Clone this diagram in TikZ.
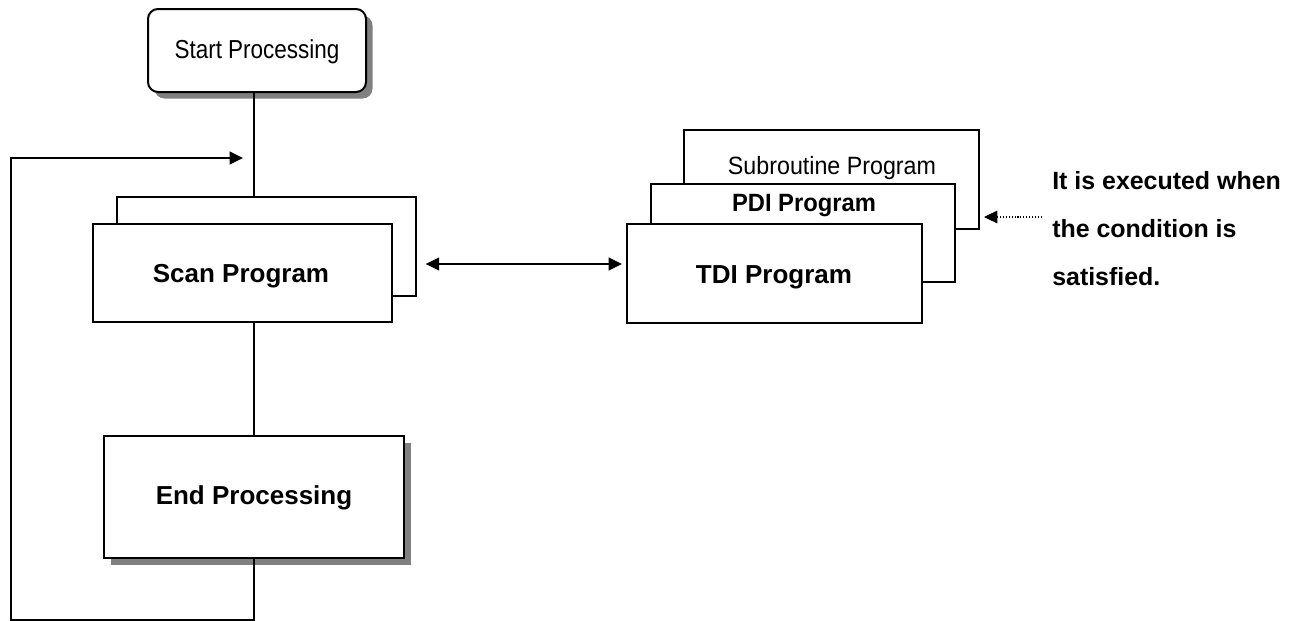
\documentclass[tikz,border=0pt]{standalone}
\usepackage{fontspec}
\setmainfont{Liberation Sans}
\newfontfamily\narrowfont[FakeStretch=0.865]{Liberation Sans}
\newfontfamily\subfont[FakeStretch=0.93]{Liberation Sans}
\newfontfamily\pdifont[FakeStretch=0.95]{Liberation Sans}
\usetikzlibrary{arrows.meta,shadows}
\begin{document}
\begin{tikzpicture}[x=0.75pt,y=-0.75pt,
  box/.style={draw=black, line width=1.5pt, fill=white, rectangle, inner sep=0pt},
  shadowbox/.style={box, drop shadow={shadow xshift=4.9pt, shadow yshift=-4.9pt, fill=black!50, opacity=1}},
  lbl/.style={font=\bfseries\fontsize{19.5pt}{22pt}\selectfont, inner sep=0pt},
  conn/.style={line width=1.3pt},
  tip/.style={-{Triangle[length=10pt,width=9.5pt]}},
  dtip/.style={{Triangle[length=10pt,width=9.5pt]}-{Triangle[length=10pt,width=9.5pt]}}]
\useasboundingbox (0,0) rectangle (1300,621);

% Start
\node[shadowbox, rounded corners=7.5pt, minimum width=163.5pt, minimum height=62.25pt] (start) at (257,50.5) {};
\node[inner sep=0pt, font=\narrowfont\fontsize{19.5pt}{22pt}\selectfont] (starttxt) at (257,52) {Start Processing};

% Scan stack
\node[box, minimum width=224.25pt, minimum height=74.25pt] (scanback) at (266.5,246.5) {};
\node[box, minimum width=224.25pt, minimum height=73.5pt] (scanfront) at (242.5,273) {};
\node[lbl] (scantxt) at (241,276) {Scan Program};

% End
\node[shadowbox, minimum width=225pt, minimum height=91.5pt] (endp) at (254,497) {};
\node[lbl] (endtxt) at (254,498) {End Processing};

% Interrupt program stack
\node[box, minimum width=221.25pt, minimum height=74.25pt] (sub) at (831.5,179.5) {};
\node[inner sep=0pt, font=\subfont\fontsize{18.75pt}{21pt}\selectfont] (subtxt) at (832,168) {Subroutine Program};
\node[box, minimum width=228pt, minimum height=73.5pt] (pdi) at (803,233) {};
\node[inner sep=0pt, font=\pdifont\bfseries\fontsize{18.75pt}{21pt}\selectfont] (pditxt) at (804,206) {PDI Program};
\node[box, minimum width=221.25pt, minimum height=74.25pt] (tdi) at (774.5,273.5) {};
\node[lbl] (tditxt) at (774,277) {TDI Program};

% Note
\node[anchor=west, align=left, inner sep=0pt, font=\bfseries\fontsize{18.7pt}{36pt}\selectfont] (note) at (1052,229) {It is executed when\\the condition is\\satisfied.};

% Coordinates
\coordinate (trunk) at (254,0);
\coordinate (lb) at (11,620);
\coordinate (looptip) at (243,158);
\coordinate (dbly) at (0,264);
\coordinate (dotsrc) at (1042,217);

% Connectors
\draw[conn] (start.south -| trunk) -- (scanback.north -| trunk);
\draw[conn] (scanfront.south -| endp.north) -- (endp.north);
\draw[conn, tip] (endp.south) |- (lb) |- (looptip);
\draw[conn, dtip, shorten <=6.5pt, shorten >=3pt] (scanback.east |- dbly) -- (tdi.west |- dbly);
\draw[line width=0.8pt, dash pattern=on 0.8pt off 1.4pt, tip, shorten >=3pt] (dotsrc) -- (sub.east |- dotsrc);
\end{tikzpicture}
\end{document}
